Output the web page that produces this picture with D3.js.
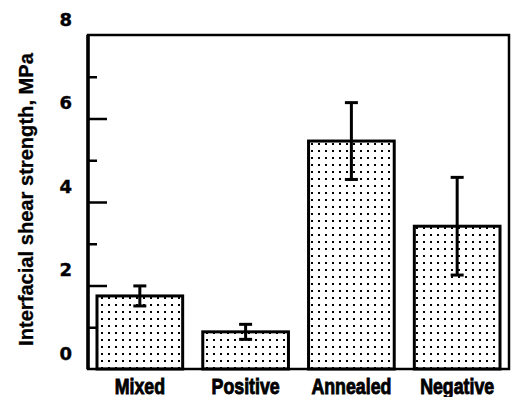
<!DOCTYPE html>
<html>
<head>
<meta charset="utf-8">
<script src="https://cdn.jsdelivr.net/npm/d3@7"></script>
<style>
  html, body { margin: 0; padding: 0; background: #fff; }
  svg { display: block; }
</style>
</head>
<body>
<svg id="chart" width="511" height="397"></svg>
<script>
const categories = ["Mixed", "Positive", "Annealed", "Negative"];
const values = [1.75, 0.89, 5.46, 3.42];
const errors = [0.24, 0.18, 0.92, 1.17];
const majorTicks = [0, 2, 4, 6, 8];
const minorTicks = [1, 3, 5, 7];
const yTitle = "Interfacial shear strength, MPa";

(function () {
const svg = d3.select("#chart");
const mLeft = 88, mRight = 509, mTop = 35, mBottom = 369;

const y = d3.scaleLinear().domain([0, 8]).range([mBottom, mTop]);
const x = d3.scaleBand().domain(categories).range([mLeft, mRight])
  .paddingInner(0.19).paddingOuter(0.085);

// dot pattern
const defs = svg.append("defs");
const pat = defs.append("pattern").attr("id", "dots")
  .attr("patternUnits", "userSpaceOnUse").attr("width", 7).attr("height", 7)
  .attr("x", 0).attr("y", 0);
pat.append("rect").attr("width", 7).attr("height", 7).attr("fill", "#fff");
pat.append("rect").attr("x", 3).attr("y", 3).attr("width", 2).attr("height", 2).attr("fill", "#000");

// bars
svg.append("g").selectAll("rect").data(categories).join("rect")
  .attr("x", d => x(d))
  .attr("y", (d, i) => y(values[i]))
  .attr("width", x.bandwidth())
  .attr("height", (d, i) => y(0) - y(values[i]))
  .attr("fill", "url(#dots)")
  .attr("stroke", "#000").attr("stroke-width", 3);

// error bars
const eb = svg.append("g").attr("stroke", "#000").attr("stroke-width", 3);
categories.forEach((c, i) => {
  const cx = x(c) + x.bandwidth() / 2;
  const hi = y(values[i] + errors[i]), lo = y(values[i] - errors[i]);
  eb.append("line").attr("x1", cx).attr("x2", cx).attr("y1", hi).attr("y2", lo);
  eb.append("line").attr("x1", cx - 6.5).attr("x2", cx + 6.5).attr("y1", hi).attr("y2", hi);
  eb.append("line").attr("x1", cx - 6.5).attr("x2", cx + 6.5).attr("y1", lo).attr("y2", lo);
});

// frame
svg.append("rect").attr("x", mLeft).attr("y", mTop)
  .attr("width", mRight - mLeft).attr("height", mBottom - mTop)
  .attr("fill", "none").attr("stroke", "#000").attr("stroke-width", 2.5);
svg.append("line").attr("x1", mLeft).attr("x2", mLeft).attr("y1", mTop).attr("y2", mBottom)
  .attr("stroke", "#000").attr("stroke-width", 3.5);

// ticks (inward)
const majorAxis = d3.axisRight(y).tickValues([2, 4, 6]).tickSize(19).tickFormat("");
const gMaj = svg.append("g").attr("transform", `translate(${mLeft},0)`).call(majorAxis);
const minorAxis = d3.axisRight(y).tickValues(minorTicks).tickSize(9).tickFormat("");
const gMin = svg.append("g").attr("transform", `translate(${mLeft},0)`).call(minorAxis);
[gMaj, gMin].forEach(g => {
  g.select(".domain").remove();
  g.selectAll(".tick line").attr("stroke", "#000").attr("stroke-width", 2.5);
});

// tick labels
const labAxis = d3.axisLeft(y).tickValues(majorTicks).tickSize(0).tickPadding(16)
  .tickFormat(d3.format("d"));
const gLab = svg.append("g").attr("transform", `translate(${mLeft},0)`).call(labAxis);
gLab.select(".domain").remove();
gLab.selectAll(".tick text")
  .attr("dy", "-0.55em")
  .attr("font-family", "'DejaVu Sans', sans-serif")
  .attr("font-weight", "bold").attr("font-size", 18).attr("fill", "#000")
  .attr("stroke", "#000").attr("stroke-width", 0.4);

// x labels (condensed look)
const xAxis = d3.axisBottom(x).tickSize(0).tickPadding(0);
const gX = svg.append("g").attr("transform", `translate(0,${mBottom})`).call(xAxis);
gX.select(".domain").remove();
const xt = gX.selectAll(".tick text")
  .attr("y", 0).attr("dy", 0)
  .attr("font-family", "'Liberation Sans', Arial, sans-serif")
  .attr("font-weight", "bold").attr("font-size", 22).attr("fill", "#000")
  .attr("stroke", "#000").attr("stroke-width", 0.9);
let annealedW = 0;
xt.each(function (d) { if (d === "Annealed") annealedW = this.getComputedTextLength(); });
const sx = annealedW > 0 ? 80 / annealedW : 1;
xt.attr("transform", `translate(0,25) scale(${sx},1)`);

// y title
svg.append("text")
  .attr("transform", "translate(33,199.5) rotate(-90)")
  .attr("text-anchor", "middle")
  .attr("font-family", "'Liberation Sans', Arial, sans-serif")
  .attr("font-weight", "bold").attr("font-size", 20)
  .attr("stroke", "#000").attr("stroke-width", 0.3)
  .text(yTitle)
  .each(function () {
    const w = this.getComputedTextLength();
    if (w > 0) d3.select(this).attr("font-size", 20 * 293 / w);
  });
})();
</script>
</body>
</html>
